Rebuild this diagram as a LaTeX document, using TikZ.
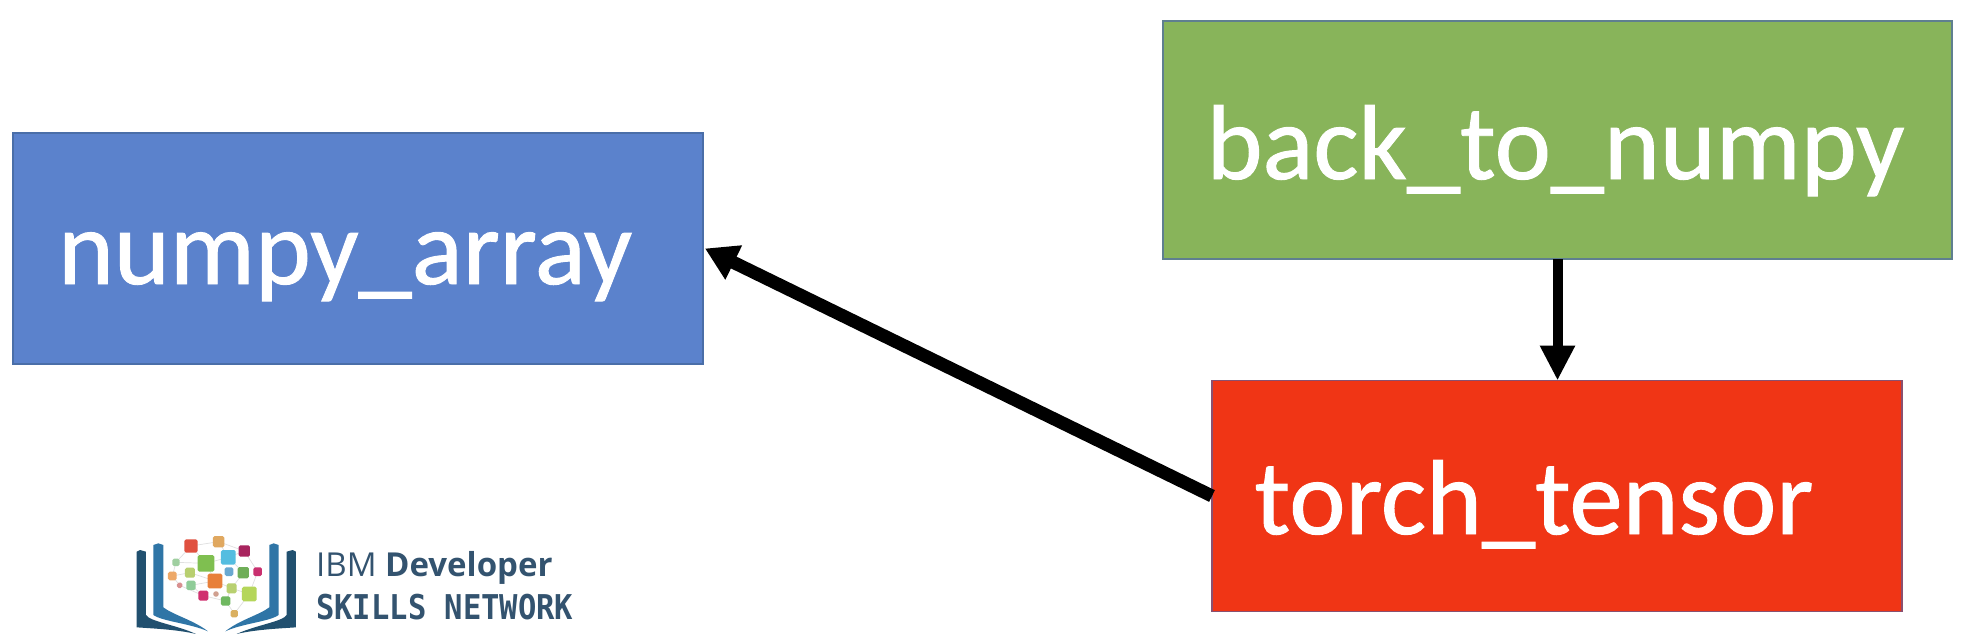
\documentclass[tikz,border=0pt]{standalone}
\usepackage{fontspec}
\usetikzlibrary{arrows.meta}
\setmainfont{Carlito}
\newfontfamily\boxfont[FakeBold=0.9]{Carlito}
\newfontfamily\logoa{Open Sans}
\newfontfamily\logob{DejaVu Sans Mono}
\definecolor{bluebox}{HTML}{5B82CC}
\definecolor{bluedge}{HTML}{4A6EA8}
\definecolor{greenbox}{HTML}{88B45A}
\definecolor{greenedge}{HTML}{5F7F8F}
\definecolor{redbox}{HTML}{F03515}
\definecolor{rededge}{HTML}{8A5070}
\definecolor{logotext}{HTML}{33536F}
\definecolor{bookdark}{HTML}{21506F}
\definecolor{booklight}{HTML}{2F75A6}
\tikzset{
  boxnode/.style={draw=#1,line width=1.2pt,minimum width=690pt,minimum height=231pt,inner sep=0pt,outer sep=0pt},
  boxlabel/.style={anchor=base,text=white,inner sep=0pt,font=\boxfont\fontsize{106.5}{110}\selectfont},
  logoline/.style={black!12,line width=0.7pt}
}
\newcommand{\lgdot}[4]{\definecolor{lgtmp}{HTML}{#4}\fill[lgtmp,rounded corners=1.6pt] ({#1-#3/2},{#2-#3/2}) rectangle ({#1+#3/2},{#2+#3/2});}
\begin{document}
\begin{tikzpicture}[x=1pt,y=-1pt]
\useasboundingbox (0,0) rectangle (1980,643);
\fill[white] (0,0) rectangle (1980,643);
% boxes
\node[boxnode=bluedge,fill=bluebox] (numpy) at (358,248.5) {};
\node[boxnode=greenedge,fill=greenbox,minimum width=789pt,minimum height=238pt] (back) at (1557.5,140) {};
\node[boxnode=rededge,fill=redbox] (torch) at (1557,496) {};
% labels
\node[boxlabel] (numpytext) at (345,284) {numpy\_array};
\node[boxlabel] (backtext) at (1555.5,179) {back\_to\_numpy};
\node[boxlabel] (torchtext) at (1534,534) {torch\_tensor};
% connectors
\draw[line width=13pt,-{Triangle[length=32pt,width=36pt]}] (torch.west) -- ([xshift=2pt]numpy.east);
\draw[line width=10pt,-{Triangle[length=35pt,width=33pt]}] (back.south) -- (back.south |- torch.north);
% logo
\begin{scope}[shift={(120,520)},x=0.3333pt,y=-0.3333pt]
  \fill[bookdark] (50,95) -- (60,90) -- (78,95) -- (78,285) .. controls (90,305) and (170,315) .. (228,342) .. controls (170,328) and (90,325) .. (50,322) -- cycle;
  \fill[bookdark] (528,95) -- (518,90) -- (500,95) -- (500,285) .. controls (488,305) and (408,315) .. (350,342) .. controls (408,328) and (488,325) .. (528,322) -- cycle;
  \fill[booklight] (100,75) -- (115,70) -- (130,75) -- (130,262) .. controls (160,285) and (220,300) .. (264,334) .. controls (210,310) and (130,305) .. (100,285) -- cycle;
  \fill[booklight] (476,75) -- (461,70) -- (448,75) -- (448,262) .. controls (418,285) and (358,300) .. (316,334) .. controls (368,310) and (448,305) .. (476,285) -- cycle;
  \draw[logoline] (213,78) -- (296,65) -- (373,93) -- (413,155) -- (388,222) -- (343,281) -- (317,243) -- (250,227) -- (179,196) -- (157,168) -- (168,127) -- (213,78) -- (258,130) -- (285,183) -- (335,205) -- (388,222);
  \draw[logoline] (296,65) -- (325,112) -- (370,158) -- (335,205) -- (317,243);
  \draw[logoline] (168,127) -- (258,130) -- (325,112) -- (373,93);
  \draw[logoline] (157,168) -- (210,158) -- (285,183) -- (213,196) -- (250,227);
  \lgdot{213}{78}{40}{E0503F}
  \lgdot{296}{65}{34}{E0A860}
  \lgdot{373}{93}{34}{A8245E}
  \lgdot{325}{112}{44}{55BDE0}
  \lgdot{258}{130}{50}{7FBF50}
  \lgdot{168}{127}{22}{9FCFA0}
  \lgdot{157}{168}{26}{EDA868}
  \lgdot{210}{158}{30}{B8CF70}
  \lgdot{327}{155}{26}{6AA8D0}
  \lgdot{370}{158}{34}{6FAE58}
  \lgdot{413}{155}{26}{C9306F}
  \lgdot{285}{183}{44}{E8803A}
  \lgdot{179}{196}{16}{D89090}
  \lgdot{213}{196}{28}{8FCC98}
  \lgdot{335}{205}{30}{B8D070}
  \lgdot{388}{222}{44}{B5D65A}
  \lgdot{250}{227}{30}{D0306F}
  \lgdot{288}{222}{16}{D0A090}
  \lgdot{317}{243}{28}{6FB860}
  \lgdot{343}{281}{22}{DAB060}
\end{scope}
\node[anchor=base west,inner sep=0pt,text=logotext,font=\logoa\fontsize{33}{36}\selectfont] (ibmtext) at (316,576) {IBM \textbf{Developer}};
\node[anchor=base west,inner sep=0pt,text=logotext,yscale=1.12,font=\logob\bfseries\fontsize{30.5}{34}\selectfont] (skillstext) at (316,619) {SKILLS NETWORK};
\end{tikzpicture}
\end{document}
